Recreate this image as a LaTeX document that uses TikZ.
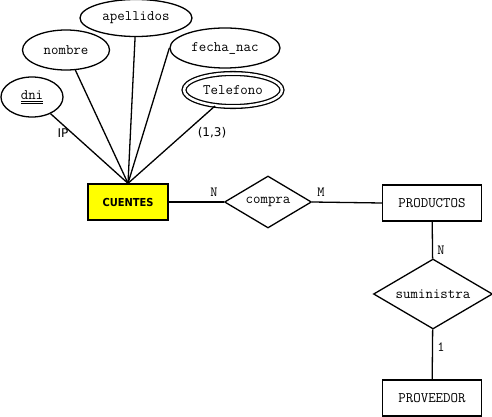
\documentclass[tikz,border=0pt]{standalone}
\usepackage{fontspec}
\newfontfamily\labfont{DejaVu Sans}
\newfontfamily\entfont{DejaVu Sans Condensed}
\usetikzlibrary{shapes.geometric}
\definecolor{amarillo}{RGB}{255,255,0}
\begin{document}
\begin{tikzpicture}[x=1pt,y=-1pt,line width=1.3pt,font=\ttfamily\fontsize{14.5}{16}\selectfont,
    atrib/.style={draw,ellipse,inner sep=0pt,minimum height=40pt},
    entidad/.style={draw,rectangle,minimum width=99pt,minimum height=36pt},
    relac/.style={draw,diamond,inner sep=0pt,aspect=1.7},
    card/.style={font=\ttfamily\fontsize{14}{16}\selectfont}]
    \useasboundingbox (0,0) rectangle (492,417);
    % atributos
    \node[atrib,minimum width=62pt] (dni) at (32,97) {\underline{\underline{dni}}};
    \node[atrib,minimum width=87pt] (nombre) at (66,50) {nombre};
    \node[atrib,minimum width=112pt,minimum height=37pt] (apellidos) at (136,18) {apellidos};
    \node[atrib,minimum width=110pt] (fecha) at (225,48) {fecha\_nac};
    \node[atrib,double,double distance=2.5pt,minimum width=98pt,minimum height=33pt] (telefono) at (233,90) {Telefono};
    % entidades y relaciones
    \node[entidad,fill=amarillo,minimum width=80pt] (cuentes) at (128,202) {\entfont\bfseries\fontsize{11}{13}\selectfont CUENTES};
    \node[relac,minimum width=87pt,minimum height=52pt] (compra) at (268,202) {compra};
    \node[entidad] (productos) at (432,203) {PRODUCTOS};
    \node[relac,minimum width=119pt,minimum height=70pt] (suministra) at (433,294) {suministra};
    \node[entidad] (proveedor) at (432,398) {PROVEEDOR};
    % conexiones
    \draw (dni) -- (cuentes.north);
    \draw (nombre) -- (cuentes.north);
    \draw (apellidos) -- (cuentes.north);
    \draw (fecha.west) -- (cuentes.north);
    \draw (telefono) -- (cuentes.north);
    \draw (cuentes) -- (compra);
    \draw (compra.east) -- (productos.west);
    \draw (productos) -- (suministra);
    \draw (suministra) -- (proveedor);
    % etiquetas
    \node[font=\labfont\fontsize{12}{14}\selectfont] (ip) at (63,133) {IP};
    \node[font=\labfont\fontsize{12}{14}\selectfont] (tcard) at (212,133) {(1,3)};
    \node[card] (cn) at (214,192) {N};
    \node[card] (cm) at (321,192) {M};
    \node[card] (sn) at (441,250) {N};
    \node[card] (s1) at (441,347) {1};
\end{tikzpicture}
\end{document}
